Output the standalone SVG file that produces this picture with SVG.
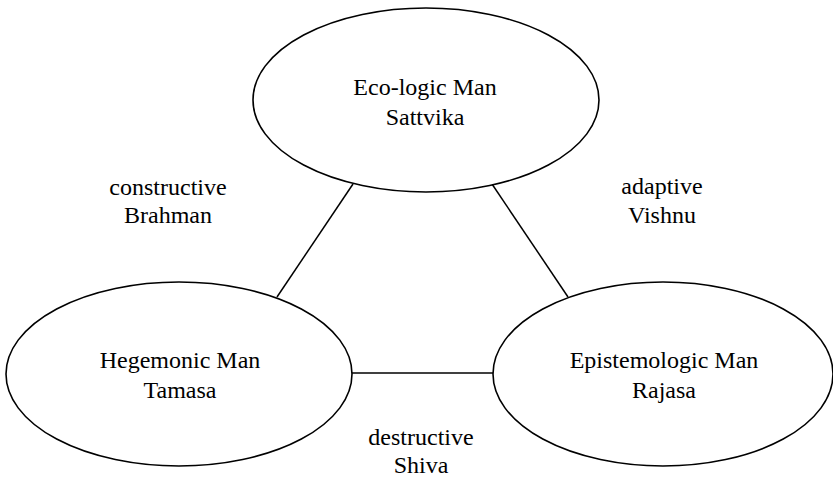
<svg xmlns="http://www.w3.org/2000/svg" width="833" height="484" viewBox="0 0 833 484">
<style>
.node{fill:#fff;stroke:#000;stroke-width:1.6}
.conn{stroke:#000;stroke-width:1.5;fill:none}
text{font-family:"Liberation Serif","Times New Roman",serif;font-size:24px;fill:#000;text-anchor:middle}
</style>
<rect width="833" height="484" fill="#fff"/>
<g id="connectors">
<line class="conn" x1="353" y1="184" x2="277" y2="297"/>
<line class="conn" x1="492" y1="184" x2="568" y2="297"/>
<line class="conn" x1="352" y1="373" x2="493" y2="373"/>
</g>
<g id="node-ecologic">
<ellipse class="node" cx="426" cy="100" rx="173" ry="92"/>
<text x="425" y="95">Eco-logic Man</text>
<text x="425" y="125">Sattvika</text>
</g>
<g id="node-hegemonic">
<ellipse class="node" cx="179" cy="374" rx="173" ry="92"/>
<text x="180" y="368">Hegemonic Man</text>
<text x="180" y="398">Tamasa</text>
</g>
<g id="node-epistemologic">
<ellipse class="node" cx="663" cy="374" rx="170" ry="92"/>
<text x="664" y="368">Epistemologic Man</text>
<text x="664" y="398">Rajasa</text>
</g>
<g id="label-constructive">
<text x="168" y="195">constructive</text>
<text x="168" y="223">Brahman</text>
</g>
<g id="label-adaptive">
<text x="662" y="194">adaptive</text>
<text x="662" y="223">Vishnu</text>
</g>
<g id="label-destructive">
<text x="421" y="445">destructive</text>
<text x="421" y="473">Shiva</text>
</g>
</svg>
